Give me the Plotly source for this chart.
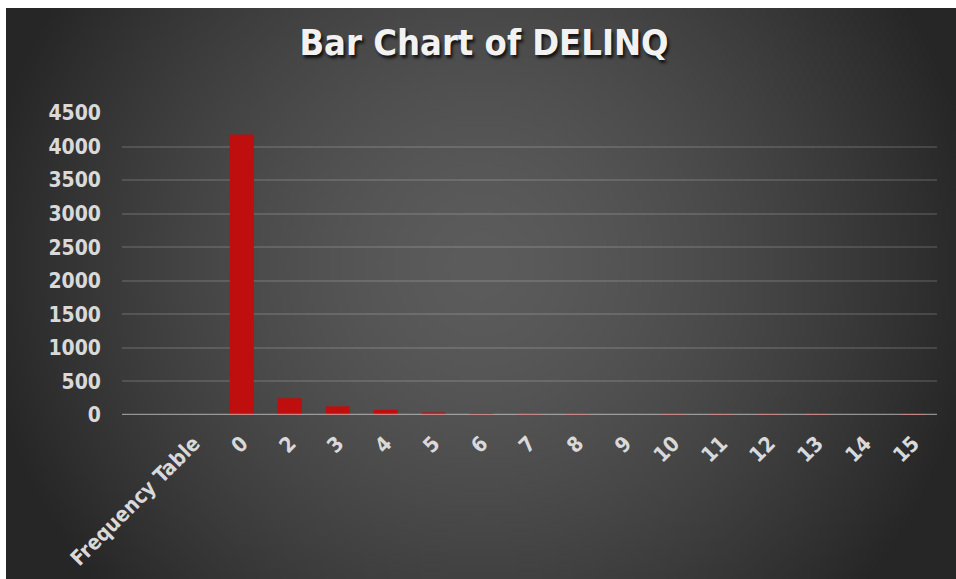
import base64
import struct
import zlib

import numpy as np
import plotly.graph_objects as go

# DELINQ frequency counts
categories = ["Frequency Table", "0", "2", "3", "4", "5", "6", "7",
              "8", "9", "10", "11", "12", "13", "14", "15"]
counts = [None, 4179, 250, 129, 78, 38, 27, 13, 5, 0, 2, 2, 1, 1, 0, 1]
y_ticks = [0, 500, 1000, 1500, 2000, 2500, 3000, 3500, 4000, 4500]

W, H = 956, 579
ML, MR, MT, MB = 122, 19, 113, 164
PW, PH = W - ML - MR, H - MT - MB


def png_data_uri(rgb):
    """Encode an (h, w, 3) uint8 array as a PNG data URI."""
    h, w, _ = rgb.shape
    raw = b"".join(b"\x00" + rgb[r].tobytes() for r in range(h))

    def chunk(tag, data):
        c = struct.pack(">I", len(data)) + tag + data
        return c + struct.pack(">I", zlib.crc32(tag + data) & 0xFFFFFFFF)

    png = b"\x89PNG\r\n\x1a\n"
    png += chunk(b"IHDR", struct.pack(">IIBBBBB", w, h, 8, 2, 0, 0, 0))
    png += chunk(b"IDAT", zlib.compress(raw, 9))
    png += chunk(b"IEND", b"")
    return "data:image/png;base64," + base64.b64encode(png).decode()


# radial dark-gray backdrop for the chart area
bx0, by0 = 6, 8
bw, bh = W - bx0, H - by0
scale = 4
gw, gh = bw // scale, bh // scale
xs = (np.arange(gw) + 0.5) * bw / gw + bx0
ys = (np.arange(gh) + 0.5) * bh / gh + by0
X, Y = np.meshgrid(xs, ys)
d = np.hypot(X - 480, Y - 265)
v = 92 - 50 * (d / 480) ** 1.5
v = np.clip(v, 38, 95).astype(np.uint8)
bg = np.dstack([v, v, v])
bg_uri = png_data_uri(bg)

fig = go.Figure()
fig.add_trace(go.Bar(
    x=categories,
    y=counts,
    marker=dict(color="#BE0E0E", line=dict(width=0)),
    width=0.5,
    hoverinfo="x+y",
))

fig.add_layout_image(dict(
    source=bg_uri,
    xref="paper", yref="paper",
    x=(bx0 - ML) / PW, y=(H - MB - by0) / PH,
    sizex=bw / PW, sizey=bh / PH,
    xanchor="left", yanchor="top",
    sizing="stretch", layer="below",
))

# category baseline drawn over the bars
fig.add_shape(type="line", xref="paper", yref="y",
              x0=0, x1=1, y0=0, y1=0, layer="above",
              line=dict(color="rgba(200,200,200,0.65)", width=2.5))

tick_font = dict(family="DejaVu Sans Condensed", size=21,
                 color="#D9D9D9", weight="bold")

fig.update_layout(
    width=W, height=H,
    margin=dict(l=ML, r=MR, t=MT, b=MB, pad=0),
    paper_bgcolor="white",
    plot_bgcolor="rgba(0,0,0,0)",
    showlegend=False,
    bargap=0.5,
    title=dict(
        text="Bar Chart of DELINQ",
        x=484 / W, xanchor="center",
        y=1 - 55 / H, yanchor="bottom",
        font=dict(family="DejaVu Sans Condensed", size=36,
                  color="#F2F2F2", weight="bold",
                  shadow="2px 3px 3px rgba(0,0,0,0.75)"),
    ),
    xaxis=dict(
        type="category",
        range=[-1.5, len(categories) - 0.5],
        tickangle=-45,
        tickfont=tick_font,
        showgrid=False, zeroline=False, showline=False,
        ticks="", ticklabelstandoff=11,
        automargin=False,
        fixedrange=True,
    ),
    yaxis=dict(
        range=[0, 4500],
        tickvals=y_ticks,
        ticktext=[str(t) for t in y_ticks],
        tickfont=tick_font,
        showgrid=True, gridcolor="rgba(255,255,255,0.13)", gridwidth=1.5,
        zeroline=False, showline=False,
        ticks="", ticklabelstandoff=20,
        automargin=False,
        fixedrange=True,
    ),
)

fig.write_html("out.html")
